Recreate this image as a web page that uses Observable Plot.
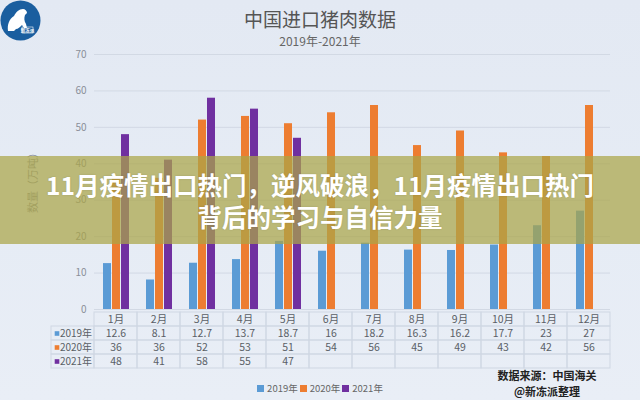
<!DOCTYPE html>
<html>
<head>
<meta charset="utf-8">
<script src="https://cdn.jsdelivr.net/npm/d3@7"></script>
<script src="https://cdn.jsdelivr.net/npm/@observablehq/plot@0.6"></script>
<style>
  html, body { margin: 0; padding: 0; }
  body { width: 640px; height: 400px; overflow: hidden; font-family: "Noto Sans CJK SC", "Noto Sans", sans-serif; }
  #wrap { position: relative; width: 640px; height: 400px; background: linear-gradient(180deg, #e3e9f3 0%, #e6ecf5 60%, #e9eef6 100%); overflow: hidden; }
  .abs { position: absolute; }
  #title { left: 0; width: 640px; top: 6px; text-align: center; font-size: 19px; color: #555; line-height: 26px; }
  #subtitle { left: 0; width: 640px; top: 33px; text-align: center; font-size: 12px; color: #666; line-height: 16px; }
  #ylab { left: 32px; top: 180px; font-size: 11px; color: #8a8f99; transform: translate(-50%, -50%) rotate(-90deg); white-space: nowrap; line-height: 12px; }
  #logo { left: 0px; top: 0px; }
  #banner { left: 0; top: 156px; width: 640px; height: 88px; background: rgba(170,165,72,0.72); }
  #banner div { text-align: center; color: #fff; font-weight: bold; font-size: 24.5px; line-height: 32px; text-shadow: 0 0 2px rgba(0,0,0,0.15); }
  #legend { left: 0; width: 640px; top: 382px; text-align: center; font-size: 9.5px; color: #666; line-height: 12px; }
  #legend span.sw { display: inline-block; width: 7px; height: 7px; margin-right: 3px; }
  #legend span.it { margin: 0 1px; }
  .src { left: 490px; width: 114px; text-align: center; font-size: 11px; font-weight: bold; color: #222; line-height: 13px; }
</style>
</head>
<body>
<div id="wrap">
  <svg id="logo" class="abs" width="42" height="42" viewBox="0 0 42 42">
    <circle cx="20.5" cy="20.5" r="20" fill="#1a5e9f"/>
    <path d="M8,31 C7,25 9,19 14,16 C16,12 19,9 23,9 C25,9 27,11 27,13 L25,15 C24,18 24,21 26,24 L27,28 L24,28 L22,25 C20,27 18,29 16,29 L14,31 Z" fill="#fff"/>
    <rect x="22" y="27" width="11" height="6" fill="none" stroke="#fff" stroke-width="0.6"/>
    <text x="27.5" y="32" font-size="4.5" fill="#fff" text-anchor="middle" font-weight="bold">新冻派</text>
  </svg>
  <div id="title" class="abs">中国进口猪肉数据</div>
  <div id="subtitle" class="abs">2019年-2021年</div>
  <div id="ylab" class="abs">数量（万吨）</div>
  <div id="chart" class="abs" style="left:0;top:0;"></div>
  <div id="table" class="abs" style="left:0;top:309px;"></div>
  <div id="banner" class="abs"><div style="padding-top:13px">11月疫情出口热门，逆风破浪，11月疫情出口热门</div><div>背后的学习与自信力量</div></div>
  <div id="legend" class="abs"></div>
  <div class="abs src" style="top:369px">数据来源：中国海关</div>
  <div class="abs src" style="top:385px">@新冻派整理</div>
</div>
<script>
// ---- data ----
const months = ["1月","2月","3月","4月","5月","6月","7月","8月","9月","10月","11月","12月"];
const years = ["2019年","2020年","2021年"];
const v2019 = [12.6, 8.1, 12.7, 13.7, 18.7, 16, 18.2, 16.3, 16.2, 17.7, 23, 27];
const v2020 = [36, 36, 52, 53, 51, 54, 56, 45, 49, 43, 42, 56];
const v2021 = [48, 41, 58, 55, 47];
const colors = ["#5b9bd5", "#ed7d31", "#7030a0"];
const yTicks = [0, 10, 20, 30, 40, 50, 60, 70];

const series = [v2019, v2020, v2021];
const data = [];
series.forEach((vals, i) => vals.forEach((v, j) => data.push({month: months[j], year: years[i], value: v})));

const font = '"Noto Sans CJK SC", "Noto Sans", sans-serif';

// ---- main chart ----
const chart = Plot.plot({
  width: 640,
  height: 320,
  marginLeft: 92,
  marginRight: 28,
  marginTop: 54,
  marginBottom: 11,
  style: {background: "transparent", fontSize: "10px", color: "#8a8f99", fontFamily: font},
  fx: {domain: months, padding: 0, axis: null},
  x: {domain: years, paddingInner: 0.16, paddingOuter: 0.86, axis: null},
  y: {domain: [0, 70], ticks: yTicks, tickSize: 0, tickPadding: 8, label: null},
  color: {domain: years, range: colors},
  marks: [
    Plot.ruleY(yTicks, {stroke: "#d2d9e4", strokeWidth: 1}),
    Plot.barY(data, {fx: "month", x: "year", y: "value", fill: "year"})
  ]
});
document.getElementById("chart").appendChild(chart);

// ---- data table ----
const rows = ["month", ...years];
const cols = ["label", ...months];
const cells = [];
months.forEach(m => cells.push({col: m, row: "month", text: m}));
series.forEach((vals, i) => months.forEach((m, j) => cells.push({col: m, row: years[i], text: vals[j] === undefined ? "" : String(vals[j])})));
years.forEach(y => cells.push({col: "label", row: y, text: ""}));

const table = Plot.plot({
  width: 640,
  height: 62,
  marginLeft: 48.7,
  marginRight: 28,
  marginTop: 2,
  marginBottom: 2,
  style: {background: "transparent", fontSize: "10px", color: "#555", fontFamily: font},
  x: {domain: cols, padding: 0, axis: null},
  y: {domain: rows, padding: 0, axis: null},
  color: {domain: years, range: colors},
  marks: [
    Plot.cell(cells, {x: "col", y: "row", fill: "none", stroke: "#cfd7e3", strokeWidth: 1}),
    Plot.text(cells, {x: "col", y: "row", text: "text", fill: "#5a5f66", fontSize: 10.5}),
    Plot.dot(years, {x: () => "label", y: d => d, symbol: "square", r: 2.6, fill: d => d, dx: -16}),
    Plot.text(years, {x: () => "label", y: d => d, text: d => d, fill: "#5a5f66", fontSize: 10, dx: 3})
  ]
});
document.getElementById("table").appendChild(table);

// ---- legend ----
const legend = document.getElementById("legend");
years.forEach((y, i) => {
  const it = document.createElement("span");
  it.className = "it";
  it.innerHTML = `<span class="sw" style="background:${colors[i]}"></span>${y}`;
  legend.appendChild(it);
});
</script>
</body>
</html>
